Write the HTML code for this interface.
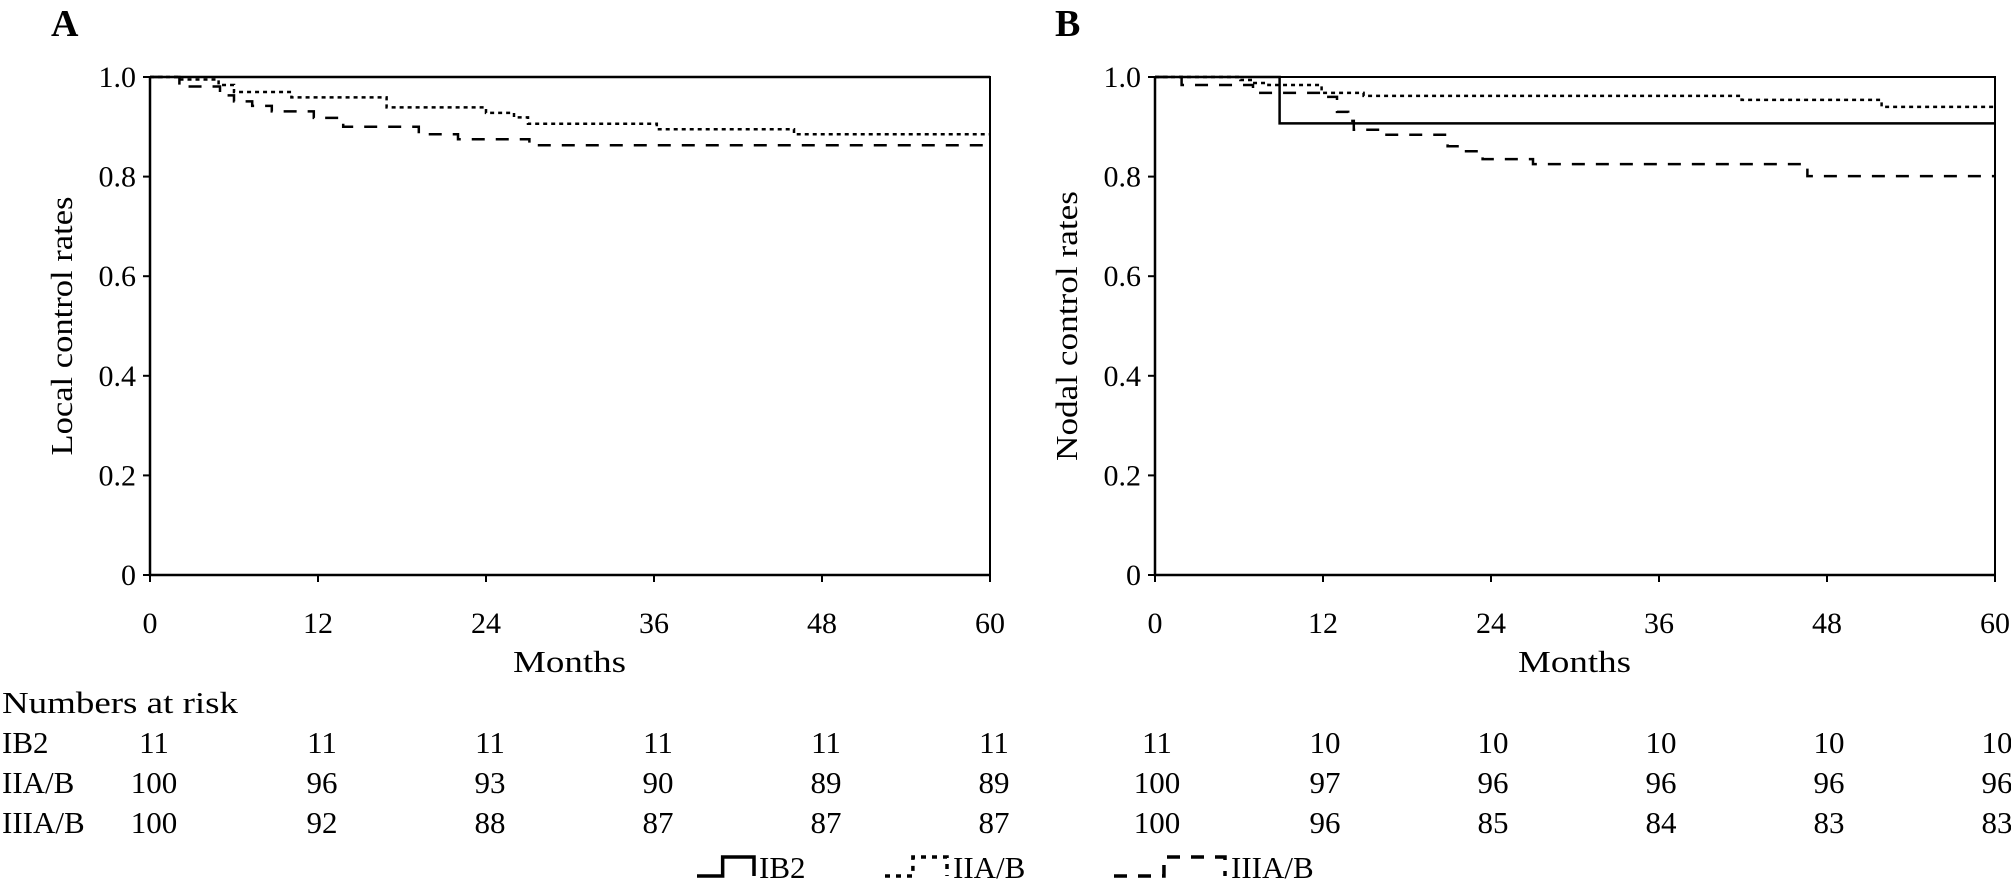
<!DOCTYPE html>
<html><head><meta charset="utf-8"><style>
html,body{margin:0;padding:0;background:#fff;}
svg{display:block;font-family:"Liberation Serif",serif;}
</style></head><body>
<svg id="chart" width="2011" height="883" viewBox="0 0 2011 883" xmlns="http://www.w3.org/2000/svg"></svg>
<script>
const xTicks=[0,12,24,36,48,60];
const yTicks=[0,0.2,0.4,0.6,0.8,1.0];
const yTickLabels=["0","0.2","0.4","0.6","0.8","1.0"];
// Panel A series: [month, survival]
const aIB2=[[0,1],[60,1]];
const aIIAB=[[0,1],[2.1,0.995],[4.9,0.984],[6.0,0.97],[10.1,0.959],[16.9,0.939],[24,0.928],[26,0.919],[27,0.906],[36.2,0.895],[46,0.885],[60,0.885]];
const aIIIAB=[[0,1],[2.1,0.981],[5.0,0.963],[6.0,0.951],[7.3,0.942],[8.7,0.931],[11.7,0.918],[13.8,0.90],[19.2,0.885],[22.0,0.875],[27.1,0.863],[60,0.863]];
// Panel B series
const bIB2=[[0,1],[8.9,0.907],[60,0.907]];
const bIIAB=[[0,1],[6.1,0.994],[7.0,0.988],[8.1,0.984],[11.9,0.968],[14.9,0.962],[41.9,0.954],[51.9,0.94],[60,0.94]];
const bIIIAB=[[0,1],[1.9,0.984],[7.0,0.968],[11.9,0.96],[13.0,0.93],[13.8,0.912],[14.2,0.894],[16.1,0.884],[20.9,0.861],[22.0,0.851],[23.4,0.835],[27.0,0.825],[46.6,0.801],[60,0.801]];
const riskGroups=["IB2","IIA/B","IIIA/B"];
const riskA=[[11,11,11,11,11,11],[100,96,93,90,89,89],[100,92,88,87,87,87]];
const riskB=[[11,10,10,10,10,10],[100,97,96,96,96,96],[100,96,85,84,83,83]];

const NS="http://www.w3.org/2000/svg";
const svg=document.getElementById('chart');
function mk(tag,attrs,parent){const e=document.createElementNS(NS,tag);for(const k in attrs)e.setAttribute(k,attrs[k]);(parent||svg).appendChild(e);return e;}
function txt(s,attrs,parent){const e=mk('text',attrs,parent);e.textContent=s;return e;}
const y0=575,y1=77;
function panel(px0,px1,title,tlen,letter,lx,ser,name){
  const g=mk('g',{});
  
  
  const X=m=>px0+m/60*(px1-px0);
  const Y=v=>y0-v*(y0-y1);
  const box=mk('path',{d:`M${X(0)},${Y(1)}H${X(60)}V${Y(0)}`,fill:'none',stroke:'#000','stroke-width':2},g);
  
  
  const ax=mk('path',{d:`M${X(0)},${Y(1)}V${Y(0)}H${X(60)}`,fill:'none',stroke:'#000','stroke-width':2.5},g);
  
  
  yTicks.forEach((v,i)=>{
    mk('line',{x1:X(0)-7,x2:X(0),y1:Y(v),y2:Y(v),stroke:'#000','stroke-width':2},g);
    const t=txt(yTickLabels[i],{x:X(0)-14,y:Y(v)+10,'text-anchor':'end','font-size':30},g);
    
    
  });
  xTicks.forEach(m=>{
    mk('line',{x1:X(m),x2:X(m),y1:Y(0),y2:Y(0)+7,stroke:'#000','stroke-width':2},g);
    const t=txt(String(m),{x:X(m),y:633,'text-anchor':'middle','font-size':30},g);
    
    
  });
  const xt=txt('Months',{x:(X(0)+X(60))/2-57,y:672,'font-size':31,textLength:113,lengthAdjust:'spacingAndGlyphs'},g);
  
  
  const yt=txt(title,{x:-tlen/2,y:0,'font-size':31,textLength:tlen,lengthAdjust:'spacingAndGlyphs',transform:`translate(${px0-78},${(y0+y1)/2}) rotate(-90)`},g);
  
  
  const L=txt(letter,{x:lx,y:36,'font-size':38,'font-weight':'bold'},g);
  
  
  const styles=[{dash:'none',n:'curve-ib2'},{dash:'4,4',n:'curve-iiab'},{dash:'13,11',n:'curve-iiiab'}];
  ser.forEach((s,i)=>{
    let d=`M${X(s[0][0])},${Y(s[0][1])}`;
    for(let k=1;k<s.length;k++){d+=`H${X(s[k][0])}V${Y(s[k][1])}`;}
    const p=mk('path',{d:d,fill:'none',stroke:'#000','stroke-width':2.5,'stroke-dasharray':styles[i].dash},g);
    
    
  });
  return X;
}
const XA=panel(150,990,'Local control rates',259,'A',51,[aIB2,aIIAB,aIIIAB],'panel-a');
const XB=panel(1155,1995,'Nodal control rates',270,'B',1055,[bIB2,bIIAB,bIIIAB],'panel-b');

const h=txt('Numbers at risk',{x:2,y:713,'font-size':31,textLength:236,lengthAdjust:'spacingAndGlyphs'});


const rowY=[753,793,833];
riskGroups.forEach((gname,r)=>{
  const t=txt(gname,{x:2,y:rowY[r],'font-size':31});
  
  
  xTicks.forEach((m,c)=>{
    const a=txt(String(riskA[r][c]),{x:XA(m)+4,y:rowY[r],'text-anchor':'middle','font-size':31});
    
    
    const b=txt(String(riskB[r][c]),{x:XB(m)+2,y:rowY[r],'text-anchor':'middle','font-size':31});
    
    
  });
});
const leg=mk('g',{});


const legItems=[{x:697,w:57,dash:'none',label:'IB2',tx:759},{x:885,w:62,dash:'5,6',label:'IIA/B',tx:953},{x:1114,w:111,dash:'13,11',label:'IIIA/B',tx:1231}];
legItems.forEach(it=>{
  const e=mk('g',{},leg);
  
  
  const mid=it.x+it.w*0.45;
  mk('path',{d:`M${it.x},${876}H${mid}V${857}H${it.x+it.w}V${876}`,fill:'none',stroke:'#000','stroke-width':3.5,'stroke-dasharray':it.dash},e);
  txt(it.label,{x:it.tx,y:878,'font-size':31},e);
});
</script>
</body></html>
